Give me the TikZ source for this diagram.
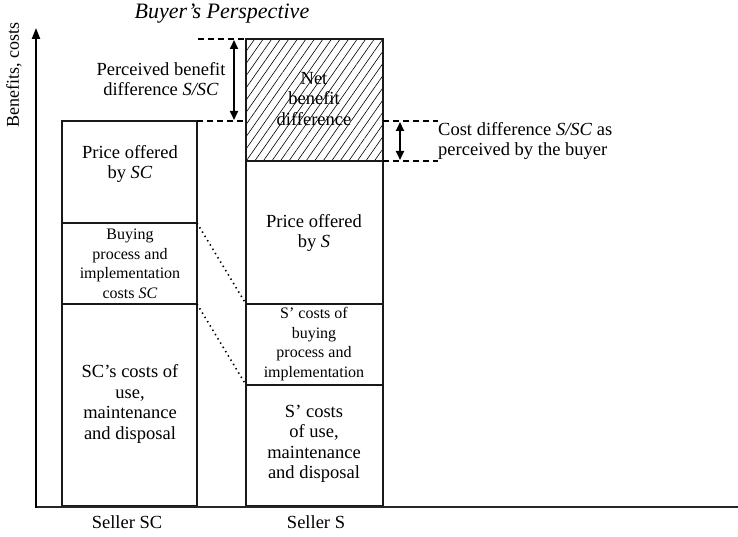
\documentclass[tikz,border=0pt]{standalone}
\usepackage{fontspec}
\setmainfont{Liberation Serif}
\usetikzlibrary{patterns.meta,arrows.meta}
\begin{document}
\begin{tikzpicture}[x=1pt,y=1pt,
  bar/.style={draw=black!90, line width=1.2pt, rectangle, inner sep=0pt, outer sep=0pt, anchor=north west},
  lab/.style={font=\fontsize{18.5}{20.5}\selectfont, align=center, inner sep=0pt},
  labs/.style={font=\fontsize{16}{19.5}\selectfont, align=center, inner sep=0pt},
  guide/.style={line width=1.7pt, dash pattern=on 6pt off 4pt},
  dim/.style={line width=2pt, {Triangle[length=9pt,width=8pt]}-{Triangle[length=9pt,width=8pt]}},
  link/.style={line width=1.6pt, dash pattern=on 1.4pt off 3.6pt}
]
\useasboundingbox (0,0) rectangle (738,-537);
% axes
\coordinate (O) at (36,-507);
\coordinate (ytop) at (36,-28);
\coordinate (xend) at (738,-507);
% left bar
\node[bar, minimum width=135pt, minimum height=102pt] (L1) at (62,-121) {};
\node[bar, minimum width=135pt, minimum height=81pt] (L2) at (62,-223) {};
\node[bar, minimum width=135pt, minimum height=202pt] (L3) at (62,-304) {};
% right bar
\node[bar, minimum width=137pt, minimum height=122pt,
  pattern={Lines[angle=55, distance=7pt, line width=0.6pt]}] (R0) at (246,-39) {};
\node[bar, minimum width=137pt, minimum height=143pt] (R1) at (246,-161) {};
\node[bar, minimum width=137pt, minimum height=81pt] (R2) at (246,-304) {};
\node[bar, minimum width=137pt, minimum height=121pt] (R3) at (246,-385) {};
\draw[line width=2pt, draw=black!85] (O) -- (xend);
\draw[line width=2pt, -{Triangle[length=11pt,width=8pt]}] ([yshift=-1pt]O) -- (ytop);
% labels in bars
\node[lab] (tL1) at (130,-164) {Price offered\\by \textit{SC}};
\node[labs] (tL2) at (130,-264) {Buying\\process and\\implementation\\costs \textit{SC}};
\node[lab] (tL3) at (130,-404) {SC’s costs of\\use,\\maintenance\\and disposal};
\node[lab] (tR0) at (314,-99) {Net\\benefit\\difference};
\node[lab] (tR1) at (314,-233) {Price offered\\by \textit{S}};
\node[labs] (tR2) at (314,-344) {S’ costs of\\buying\\process and\\implementation};
\node[lab] (tR3) at (314,-444) {S’ costs\\of use,\\maintenance\\and disposal};
% dashed guides
\coordinate (g1) at (198,-39);
\coordinate (g2) at (438,-121);
\coordinate (g3) at (438,-161);
\draw[guide] (g1) -- (R0.north west);
\draw[guide] (L1.north east) -- (R0.west |- L1.north east);
\draw[guide] (R0.east |- L1.north) -- (g2);
\draw[guide] (R0.south east) -- (g3);
% dimension arrows
\coordinate (a1) at (234,-40);
\coordinate (a2) at (234,-120);
\coordinate (b1) at (400,-122);
\coordinate (b2) at (400,-160);
\draw[dim] (a1) -- (a2);
\draw[dim] (b1) -- (b2);
% dotted links
\draw[link] (L2.north east) -- (R2.north west);
\draw[link] (L3.north east) -- (R3.north west);
% texts
\node[lab] (pb) at (161,-79) {Perceived benefit\\difference \textit{S/SC}};
\node[lab, align=left, anchor=west] (cd) at (438,-141) {Cost difference \textit{S/SC} as\\perceived by the buyer};
\node[lab, font=\fontsize{22}{24}\selectfont\itshape] (title) at (222,-14) {Buyer’s Perspective};
\node[lab, rotate=90, font=\fontsize{18}{20}\selectfont] (yl) at (14,-75) {Benefits, costs};
\node[lab] (s1) at (127,-522) {Seller SC};
\node[lab] (s2) at (316,-522) {Seller S};
\end{tikzpicture}
\end{document}
